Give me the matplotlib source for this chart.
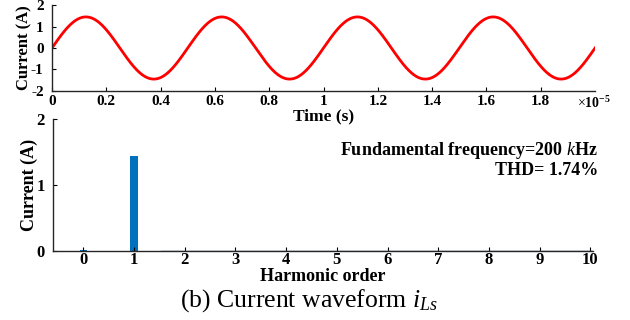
import matplotlib
matplotlib.use("Agg")
import matplotlib.pyplot as plt
import numpy as np

plt.rcParams["font.family"] = ["Liberation Serif", "DejaVu Serif"]
plt.rcParams["mathtext.fontset"] = "custom"
plt.rcParams["mathtext.it"] = "Liberation Serif:italic"
plt.rcParams["mathtext.rm"] = "Liberation Serif"
plt.rcParams["mathtext.bf"] = "Liberation Serif:bold"

# waveform: 200 kHz sine, amplitude
freq_hz = 200e3
amplitude = 1.45
t_end = 2e-5
time_ticks = [0, 0.2, 0.4, 0.6, 0.8, 1.0, 1.2, 1.4, 1.6, 1.8]
time_labels = ["0", "0.2", "0.4", "0.6", "0.8", "1", "1.2", "1.4", "1.6", "1.8"]

# harmonic spectrum
harmonic_order = [0, 1, 2, 3, 4, 5, 6, 7, 8, 9, 10]
harmonic_amp = [0.02, 1.44, 0.004, 0.004, 0.004, 0.004, 0.004, 0.004, 0.004, 0.004, 0.004]

RED = "#ff0000"
BLUE = "#0072bd"

t = np.linspace(0, t_end, 2000)
i_ls = amplitude * np.sin(2 * np.pi * freq_hz * t)

fig = plt.figure(figsize=(6.3, 3.2), dpi=100)

ax2 = fig.add_axes([0.084, 0.216, 0.857, 0.412])
ax2.patch.set_alpha(0)
ax1 = fig.add_axes([0.0825, 0.716, 0.862, 0.268])

ax1.plot(t, i_ls, color=RED, lw=2.0)
ax1.set_xlim(0, t_end)
ax1.set_ylim(-2, 2)
ax1.set_yticks([-2, -1, 0, 1, 2])
ax1.set_yticklabels(["-2", "-1", "0", "1", "2"])
ax1.set_xticks(np.array(time_ticks) * 1e-5)
ax1.set_xticklabels(time_labels)
ax1.set_ylabel("Current (A)", fontsize=12, fontweight="bold", labelpad=-1)
ax1.set_xlabel("Time (s)", fontsize=12.5, fontweight="bold", labelpad=0)
ax1.text(0.967, -0.05, r"$\times$10$^{\mathbf{-5}}$", transform=ax1.transAxes, fontsize=10,
         fontweight="bold", ha="left", va="top")

ax2.bar(harmonic_order, harmonic_amp, width=0.15, color=BLUE)
ax2.axhline(0.004, xmin=0.2, xmax=1, color="#3b5f7a", lw=1.0)
ax2.set_xlim(-0.6, 10.05)
ax2.set_ylim(0, 2)
ax2.set_yticks([0, 1, 2])
ax2.set_xticks(harmonic_order)
ax2.set_ylabel("Current (A)", fontsize=13, fontweight="bold", labelpad=-1)
ax2.set_xlabel("Harmonic order", fontsize=13, fontweight="bold", labelpad=0)
ax2.text(1.01, 0.765, r"Fundamental frequency=200 $\mathbf{\mathit{k}}$Hz", transform=ax2.transAxes,
         fontsize=13, fontweight="bold", ha="right", va="center")
ax2.text(1.01, 0.61, "THD= 1.74%", transform=ax2.transAxes,
         fontsize=13, fontweight="bold", ha="right", va="center")

for ax in (ax1, ax2):
    ax.spines["top"].set_visible(False)
    ax.spines["right"].set_visible(False)
    for s in ("left", "bottom"):
        ax.spines[s].set_linewidth(1.0)
        ax.spines[s].set_color("#262626")
    ax.tick_params(direction="in", length=3, width=0.8)
    ax.tick_params(axis="y", pad=6)
    for lab in ax.get_xticklabels() + ax.get_yticklabels():
        lab.set_fontweight("bold")

ax1.tick_params(axis="both", labelsize=11)
ax1.tick_params(axis="x", pad=3)
ax2.tick_params(axis="both", labelsize=12)
ax2.tick_params(axis="x", pad=1)

fig.text(0.49, 0.062, r"(b) Current waveform $i_{Ls}$", fontsize=18.5, ha="center", va="center")

fig.savefig("out.png", dpi=100)
